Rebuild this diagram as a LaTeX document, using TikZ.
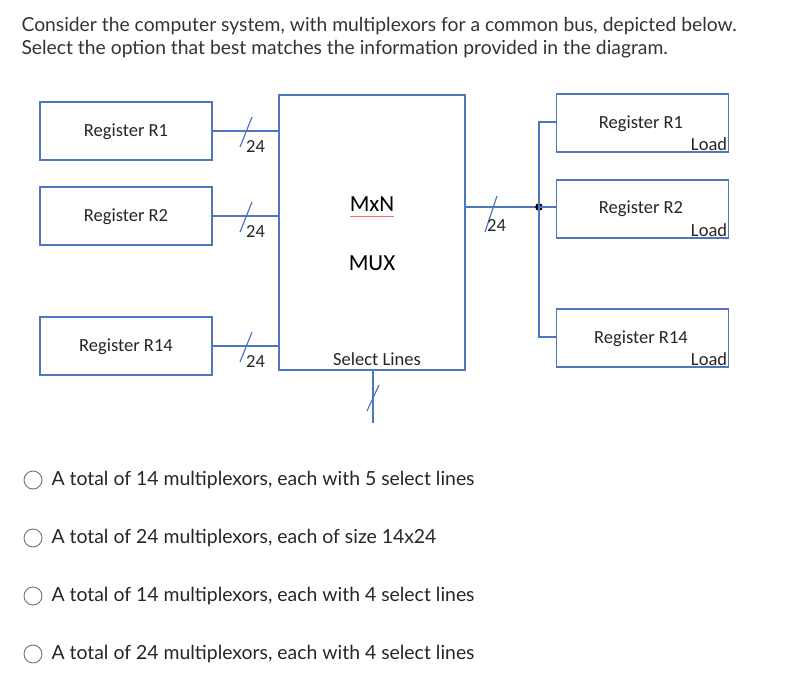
\documentclass[tikz,border=0pt]{standalone}
\usepackage{fontspec}
\setmainfont{Lato}
\newfontfamily\carl{Carlito}
\begin{document}
\begin{tikzpicture}[x=1pt,y=-1pt,
 bl/.style={draw={rgb,255:red,79;green,119;blue,190}, line width=1.6pt},
 reg/.style={bl, fill=white, minimum width=172pt, minimum height=58pt, inner sep=0pt},
 rt/.style={font=\carl\fontsize{18.5}{20}\selectfont, text=black!85},
 opt/.style={font=\fontsize{19.4}{22}\selectfont, text=black!85, anchor=west},
 sl/.style={bl, line width=1.2pt}]
\useasboundingbox (0,0) rectangle (811,672);
\node[anchor=west, font=\fontsize{19.3}{22}\selectfont, text=black!80] (q1) at (18,26) {Consider the computer system, with multiplexors for a common bus, depicted below.};
\node[anchor=west, font=\fontsize{19.3}{22}\selectfont, text=black!80] (q2) at (18,49) {Select the option that best matches the information provided in the diagram.};
% left registers
\node[reg] (L1) at (126,131) {}; \node[rt] (L1t) at (126,132) {Register R1};
\node[reg] (L2) at (126,216) {}; \node[rt] (L2t) at (126,217) {Register R2};
\node[reg] (L3) at (126,346) {}; \node[rt] (L3t) at (126,347) {Register R14};
% mux
\node[bl, minimum width=186pt, minimum height=275pt, inner sep=0pt] (mux) at (372,232.5) {};
\node[font=\carl\fontsize{23}{26}\selectfont] (mxn) at (372,204) {MxN};
\draw[red!60, line width=0.5pt] (350,216) -- (394,216);
\node[font=\carl\fontsize{23}{26}\selectfont] (mt) at (372,263) {MUX};
\node[rt] (sel) at (377,359) {Select Lines};
% inputs
\foreach \n/\y in {L1/131,L2/216,L3/346}{
 \draw[bl] (\n.east |- 0,\y) -- (mux.west |- 0,\y);
 \draw[sl] (240,\y+16) -- (252,\y-14);
 \node[rt, anchor=west, inner sep=0pt] at (246,\y+15) {24};
}
% select
\coordinate (s2) at (373,423);
\draw[bl] (mux.south -| 373,0) -- (s2);
\draw[sl] (367,411) -- (379,385);
% output
\coordinate (dot) at (539,207);
\draw[bl] (mux.east |- dot) -- (dot);
\draw[sl] (485,232) -- (497,196);
\node[rt, anchor=west, inner sep=0pt] at (487,225) {24};
\fill (dot) circle (3.8);
% right registers
\node[reg] (R1) at (642.5,123) {};
\node[reg] (R2) at (642.5,209) {};
\node[reg] (R3) at (642.5,338) {};
\node[rt] at (641,124) {Register R1};
\node[rt] at (641,209) {Register R2};
\node[rt] at (641,339) {Register R14};
\foreach \r in {R1,R2,R3}{\node[rt, anchor=south east, inner sep=2pt] at (\r.south east) {Load};}
\draw[bl] (R1.west |- 0,122) -- (539,122) -- (539,337) -- (R3.west |- 0,337);
\draw[bl] (dot) -- (R2.west |- dot);
% options
\foreach \y/\t in {480/{A total of 14 multiplexors, each with 5 select lines},
 538/{A total of 24 multiplexors, each of size 14x24},
 596/{A total of 14 multiplexors, each with 4 select lines},
 654/{A total of 24 multiplexors, each with 4 select lines}}{
 \draw[black!55, line width=0.9pt, fill=white] (33,\y) circle (9);
 \node[opt] at (48,\y) {\t};
}
\end{tikzpicture}
\end{document}
